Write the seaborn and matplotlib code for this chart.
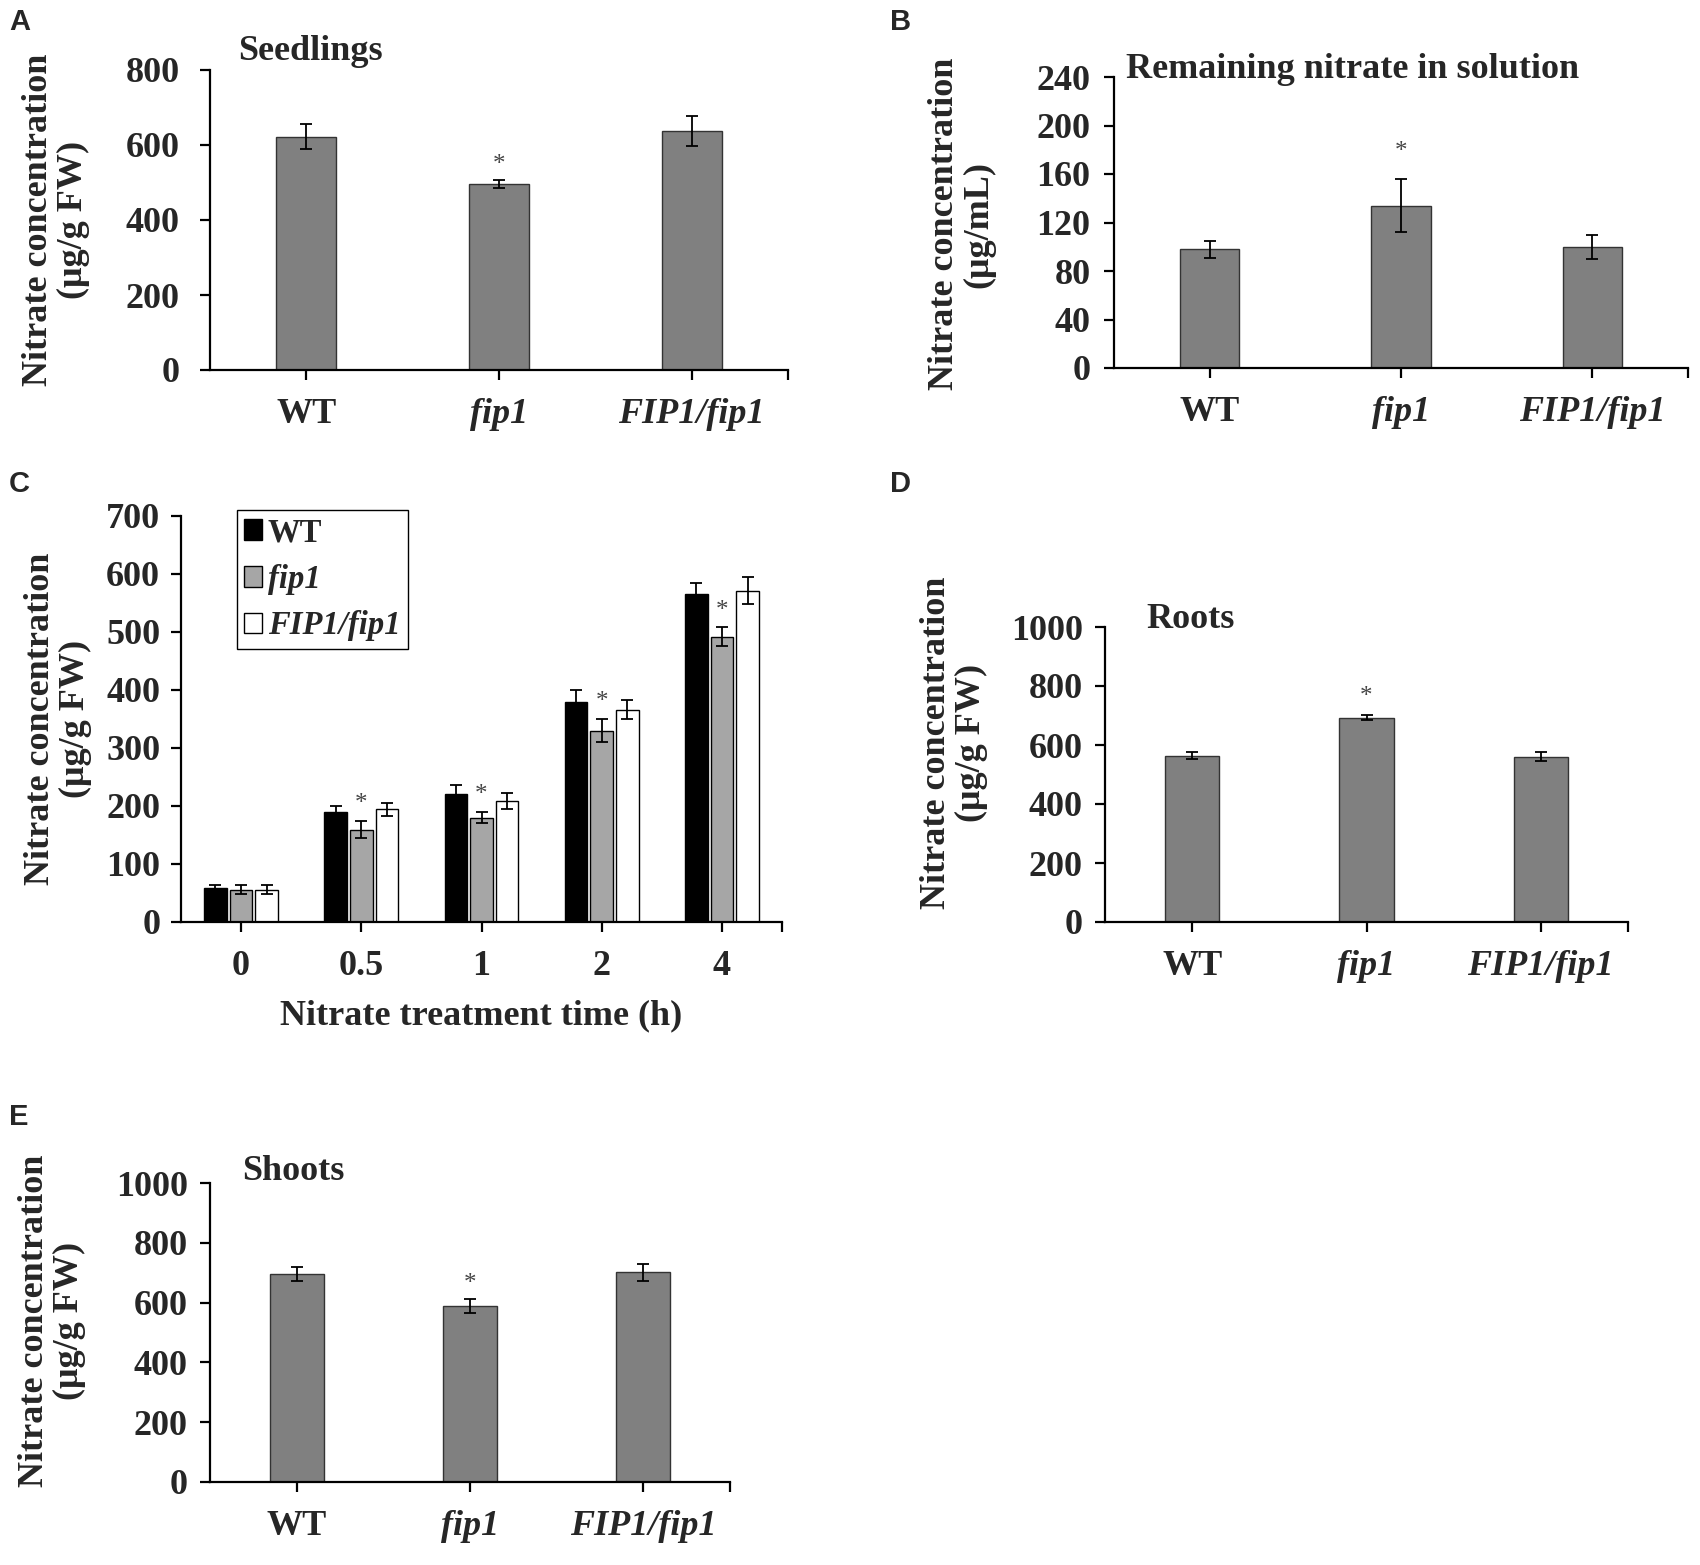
"""
nitrate content of fip1 seedlings, roots and shoots
"""
import numpy as np
import pandas as pd
import matplotlib
matplotlib.use('Agg')
import matplotlib.pyplot as plt
import seaborn as sns


genotypes = ['WT', 'fip1', 'FIP1/fip1']

# A: seedlings
seedlings_mean = [622, 495, 638]
seedlings_err = [34, 11, 40]
# B: remaining nitrate in solution
solution_mean = [98, 134, 100]
solution_err = [7, 22, 10]
# D: roots
roots_mean = [564, 693, 560]
roots_err = [11, 9, 15]
# E: shoots
shoots_mean = [696, 588, 701]
shoots_err = [24, 24, 28]

# C: time course
times = ['0', '0.5', '1', '2', '4']
time_wt = [58, 190, 220, 380, 566]
time_wt_err = [5, 10, 16, 20, 19]
time_fip1 = [56, 159, 180, 330, 492]
time_fip1_err = [7, 15, 10, 20, 16]
time_comp = [56, 194, 208, 366, 571]
time_comp_err = [7, 12, 14, 16, 23]
time_star = [False, True, True, True, True]

ylabel_fw = 'Nitrate concentration\n(\u03bcg/g FW)'
ylabel_ml = 'Nitrate concentration\n(\u03bcg/mL)'

sns.set_style('ticks')
plt.rcParams['font.family'] = ['Liberation Serif', 'DejaVu Serif']
plt.rcParams['font.weight'] = 'bold'
plt.rcParams['axes.labelweight'] = 'bold'

W, H = 1700, 1565
fig = plt.figure(figsize=(W / 100, H / 100), dpi=100)


def rect(l, r, t, b):
    # pixel box -> figure fraction
    return [l / W, 1 - b / H, (r - l) / W, (b - t) / H]


def style_axis(ax, ylim, step, ytick_pad, nx):
    ax.set_ylim(*ylim)
    ax.set_yticks(np.arange(ylim[0], ylim[1] + 1, step))
    ax.set_xlim(-0.5, nx - 0.5)
    ax.set_xticks([nx - 0.5], minor=True)
    sns.despine(ax=ax)
    for s in ['left', 'bottom']:
        ax.spines[s].set_linewidth(1.6)
        ax.spines[s].set_color('black')
    ax.tick_params(axis='both', which='both', direction='out', length=7,
                   width=1.6, color='black', labelsize=26)
    ax.tick_params(axis='x', which='both', pad=13)
    ax.tick_params(axis='y', pad=ytick_pad)
    ax.set_xlabel('')


def star(ax, x, top, off):
    ax.annotate('*', xy=(x, top), xytext=(0, off), textcoords='offset points',
                ha='center', va='center', fontsize=18, fontweight='normal',
                color='#444444')


def genotype_panel(box, means, errs, ylim, step, title, title_xy, ylabel,
                   ylabel_xy, ytick_pad, star_off):
    ax = fig.add_axes(rect(*box))
    sns.barplot(x=genotypes, y=means, color='#808080', saturation=1,
                width=0.31, edgecolor='#333333', linewidth=1.0,
                errorbar=None, ax=ax)
    bars = ax.containers[0]
    xs = [p.get_x() + p.get_width() / 2 for p in bars]
    ax.errorbar(xs, means, yerr=errs, fmt='none', ecolor='black',
                elinewidth=1.3, capsize=4, capthick=1.3)
    # significance mark on fip1
    star(ax, xs[1], means[1] + errs[1], star_off)
    style_axis(ax, ylim, step, ytick_pad, len(genotypes))
    for lab in ax.get_xticklabels()[1:]:
        lab.set_style('italic')
    ax.text(title_xy[0], title_xy[1], title, transform=ax.transAxes,
            fontsize=26, ha='left', va='baseline')
    ax.set_ylabel(ylabel, fontsize=26, linespacing=1.05, ha='center',
                  va='center')
    ax.yaxis.set_label_coords(ylabel_xy[0] / W, 1 - ylabel_xy[1] / H,
                              transform=fig.transFigure)
    return ax


genotype_panel((210, 788, 70, 370), seedlings_mean, seedlings_err, (0, 800), 200,
               'Seedlings', (0.048, 1.033), ylabel_fw, (56, 220), 15, 11)
genotype_panel((1114, 1688, 77, 368), solution_mean, solution_err, (0, 240), 40,
               'Remaining nitrate in solution', (0.021, 0.997), ylabel_ml,
               (962, 224), 10, 19)
genotype_panel((1105, 1628, 627, 922), roots_mean, roots_err, (0, 1000), 200,
               'Roots', (0.08, 0.997), ylabel_fw, (954, 743), 9, 13)
genotype_panel((210, 730, 1183, 1482), shoots_mean, shoots_err, (0, 1000), 200,
               'Shoots', (0.061, 1.01), ylabel_fw, (52, 1321), 9, 11)

# C: time course
df = pd.DataFrame({
    'time': times * 3,
    'genotype': ['WT'] * 5 + ['fip1'] * 5 + ['FIP1/fip1'] * 5,
    'value': time_wt + time_fip1 + time_comp,
})
errs_c = [time_wt_err, time_fip1_err, time_comp_err]

axc = fig.add_axes(rect(181, 782, 516, 922))
sns.barplot(data=df, x='time', y='value', hue='genotype', order=times,
            hue_order=genotypes, palette=['#000000', '#a6a6a6', '#ffffff'],
            saturation=1, width=0.64, gap=0.12, edgecolor='black',
            linewidth=1.0, errorbar=None, legend=False, ax=axc)
for cont, err in zip(axc.containers, errs_c):
    xs = [p.get_x() + p.get_width() / 2 for p in cont]
    hs = [p.get_height() for p in cont]
    axc.errorbar(xs, hs, yerr=err, fmt='none', ecolor='black',
                 elinewidth=1.3, capsize=4, capthick=1.3)
fip_bars = axc.containers[1]
for p, e, s in zip(fip_bars, time_fip1_err, time_star):
    if s:
        star(axc, p.get_x() + p.get_width() / 2, p.get_height() + e, 12)
style_axis(axc, (0, 700), 100, 8, len(times))
axc.set_xlabel('Nitrate treatment time (h)', fontsize=26, labelpad=12)
axc.set_ylabel(ylabel_fw, fontsize=26, linespacing=1.05, ha='center', va='center')
axc.yaxis.set_label_coords(58 / W, 1 - 719 / H, transform=fig.transFigure)

leg = axc.legend(axc.containers, genotypes, loc='upper left',
                 bbox_to_anchor=(0.093, 1.015), frameon=True, fancybox=False,
                 edgecolor='black', framealpha=1, fontsize=23.5,
                 handlelength=0.55, handleheight=0.6, handletextpad=0.18,
                 labelspacing=0.48, borderpad=0.22, borderaxespad=0)
leg.get_frame().set_linewidth(1.0)
for t in leg.get_texts()[1:]:
    t.set_style('italic')

# panel letters
for letter, (px, py) in zip('ABCDE', [(9, 8), (890, 8), (9, 470), (890, 470), (9, 1103)]):
    fig.text(px / W, 1 - py / H, letter, fontsize=21, fontweight='bold',
             family=['Liberation Sans', 'DejaVu Sans'], ha='left', va='top')

fig.savefig('out.png', dpi=100, facecolor='white')
